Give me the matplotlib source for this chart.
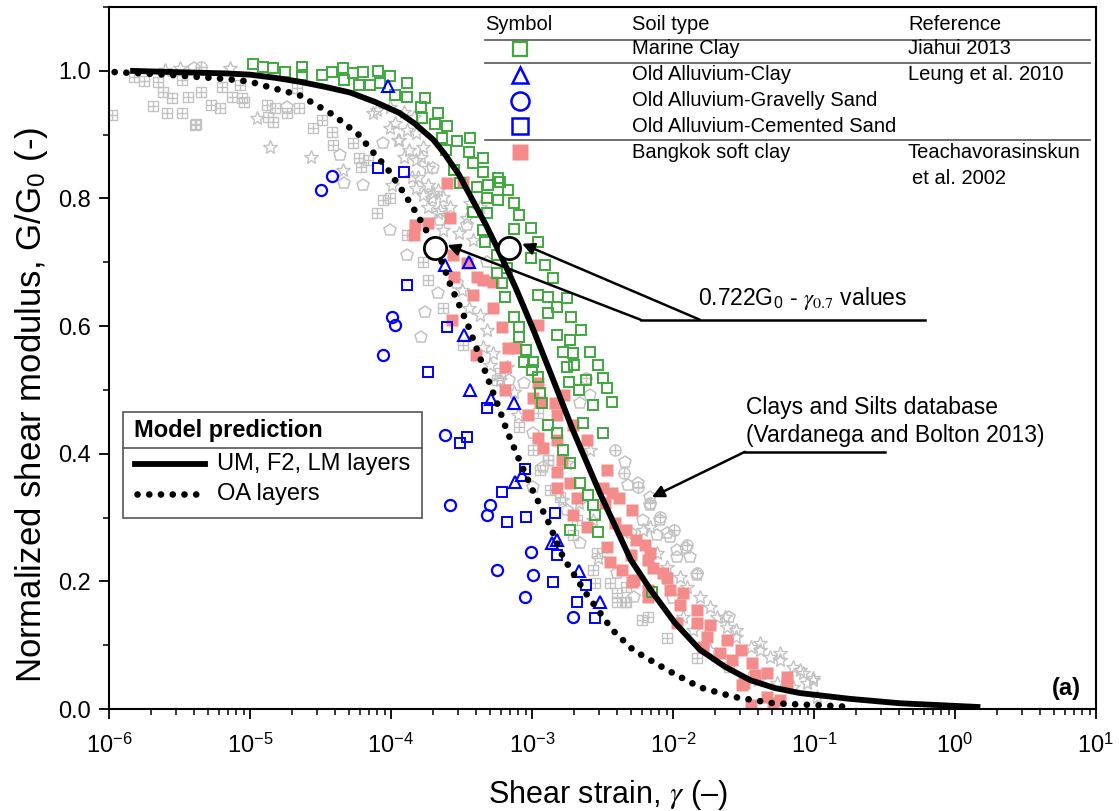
import matplotlib
matplotlib.use("Agg")
import matplotlib.pyplot as plt
import numpy as np
from matplotlib.patches import Rectangle
from matplotlib.lines import Line2D
from matplotlib.ticker import (LogLocator, MultipleLocator, FormatStrFormatter, FixedLocator,
                               FixedFormatter, NullFormatter)

plt.rcParams['font.family'] = ['Liberation Sans', 'DejaVu Sans']
plt.rcParams['mathtext.fontset'] = 'stix'

# ---- data: log10(shear strain) and G/G0 ----
# model predictions
um_logx = [-5.85, -5.53, -5.18, -5.0, -4.82, -4.65, -4.47, -4.29, -4.11, -3.94, -3.83, -3.70,
           -3.62, -3.58, -3.52, -3.44, -3.33, -3.23, -3.11, -2.99, -2.85, -2.71, -2.52, -2.30,
           -2.16, -1.99, -1.81, -1.63, -1.45, -1.28, -1.10, -0.75, -0.39, 0.18]
um_g = [1.0, 0.998, 0.996, 0.994, 0.989, 0.983, 0.975, 0.966, 0.951, 0.934, 0.917, 0.892,
        0.870, 0.857, 0.838, 0.805, 0.760, 0.715, 0.657, 0.594, 0.516, 0.437, 0.339, 0.234,
        0.187, 0.136, 0.093, 0.066, 0.045, 0.033, 0.025, 0.016, 0.009, 0.003]
oa_logx = [-5.96, -5.59, -5.16, -5.0, -4.84, -4.65, -4.41, -4.23, -4.13, -4.03, -3.91, -3.82,
           -3.74, -3.63, -3.58, -3.51, -3.45, -3.39, -3.31, -3.23, -3.18, -3.09, -2.99, -2.89,
           -2.78, -2.62, -2.43, -2.28, -2.04, -1.81, -1.57, -1.29, -0.98, -0.72]
oa_g = [0.998, 0.994, 0.987, 0.983, 0.973, 0.962, 0.931, 0.900, 0.873, 0.848, 0.809, 0.777,
        0.746, 0.696, 0.665, 0.630, 0.599, 0.563, 0.516, 0.469, 0.437, 0.390, 0.340, 0.296,
        0.238, 0.182, 0.124, 0.092, 0.061, 0.034, 0.019, 0.009, 0.006, 0.003]
g07_logx = [-3.69, -3.16]
g07_g = [0.722, 0.722]

# x tick decades and their labels
decades = [-6, -5, -4, -3, -2, -1, 0, 1]
decade_labels = [r'10$^{\mathdefault{%d}}$' % d for d in decades]

# Marine Clay (Jiahui 2013)
marine_logx = [-4.98, -4.91, -4.84, -4.75, -4.63, -4.63, -4.49, -4.42, -4.34, -4.33, -4.27, -4.20,
               -4.23, -4.15, -4.09, -4.01, -4.08, -3.89, -3.97, -3.89, -3.76, -3.79, -3.78, -3.67,
               -3.69, -3.60, -3.64, -3.53, -3.44, -3.61, -3.45, -3.35, -3.42, -3.35, -3.55, -3.24,
               -3.51, -3.39, -3.31, -3.23, -3.17, -3.32, -3.24, -3.13, -3.42, -3.32, -3.09, -3.35,
               -3.13, -3.01, -3.33, -2.96, -3.25, -3.01, -2.91, -3.25, -3.18, -2.85, -3.21, -2.96,
               -2.89, -2.75, -3.19, -2.82, -2.89, -2.72, -3.13, -3.09, -2.82, -2.73, -2.65, -2.59,
               -3.09, -3.04, -2.78, -2.71, -3.06, -2.99, -2.75, -2.70, -2.53, -3.00, -2.96, -2.74,
               -2.62, -2.50, -2.67, -2.47, -2.94, -2.93, -2.57, -2.43, -2.89, -2.82, -2.64, -2.50,
               -2.78, -2.73, -2.66, -2.60, -2.57, -2.55, -2.53, -2.73, -2.15]
marine_g = [1.01, 1.006, 1.005, 0.998, 1.006, 0.994, 0.994, 0.998, 1.005, 0.986, 0.997, 0.998,
            0.978, 0.978, 1.0, 0.992, 0.981, 0.981, 0.962, 0.959, 0.958, 0.944, 0.926, 0.934,
            0.917, 0.914, 0.895, 0.890, 0.895, 0.876, 0.873, 0.864, 0.856, 0.842, 0.845, 0.832,
            0.824, 0.818, 0.821, 0.826, 0.813, 0.801, 0.798, 0.793, 0.779, 0.777, 0.774, 0.751,
            0.752, 0.754, 0.732, 0.732, 0.712, 0.707, 0.696, 0.683, 0.691, 0.676, 0.668, 0.649,
            0.646, 0.644, 0.646, 0.630, 0.621, 0.614, 0.614, 0.599, 0.586, 0.578, 0.594, 0.560,
            0.583, 0.563, 0.560, 0.558, 0.544, 0.544, 0.536, 0.539, 0.539, 0.531, 0.520, 0.513,
            0.516, 0.519, 0.500, 0.503, 0.495, 0.480, 0.476, 0.481, 0.445, 0.433, 0.448, 0.433,
            0.406, 0.386, 0.354, 0.335, 0.320, 0.304, 0.277, 0.281, 0.183]

# Bangkok soft clay (Teachavorasinskun et al. 2002)
bangkok_logx = [-3.60, -3.49, -3.83, -3.74, -3.84, -3.58, -3.56, -3.46, -3.55, -3.39, -3.35, -3.28,
                -3.42, -3.28, -3.57, -3.21, -2.96, -3.17, -3.40, -3.11, -3.19, -3.19, -3.03, -2.96,
                -2.94, -2.82, -2.77, -2.84, -2.96, -2.92, -2.82, -2.61, -2.79, -2.82, -2.47, -2.82,
                -2.73, -2.50, -2.68, -2.43, -2.48, -2.38, -2.29, -2.71, -2.61, -2.41, -2.33, -2.26,
                -2.47, -2.20, -2.16, -2.30, -2.71, -2.99, -2.36, -2.14, -2.07, -2.04, -2.29, -2.02,
                -1.93, -2.18, -1.95, -1.83, -1.97, -1.83, -1.74, -1.76, -1.62, -1.79, -1.67, -1.58,
                -1.52, -1.44, -1.42, -1.33, -1.19, -1.50, -1.19, -1.33, -1.29, -1.45, -2.18, -2.45,
                -2.28, -2.18, -1.51, -1.24]
bangkok_g = [0.824, 0.826, 0.759, 0.762, 0.743, 0.770, 0.712, 0.699, 0.677, 0.677, 0.672, 0.669,
             0.649, 0.629, 0.610, 0.599, 0.602, 0.566, 0.555, 0.566, 0.536, 0.500, 0.461, 0.511,
             0.481, 0.461, 0.492, 0.480, 0.425, 0.409, 0.422, 0.422, 0.390, 0.371, 0.375, 0.346,
             0.354, 0.346, 0.331, 0.339, 0.323, 0.331, 0.312, 0.304, 0.285, 0.292, 0.281, 0.265,
             0.254, 0.257, 0.245, 0.241, 0.445, 0.487, 0.218, 0.221, 0.213, 0.205, 0.199, 0.187,
             0.182, 0.176, 0.163, 0.155, 0.135, 0.135, 0.132, 0.113, 0.108, 0.097, 0.088, 0.077,
             0.092, 0.072, 0.053, 0.056, 0.050, 0.041, 0.038, 0.019, 0.009, 0.006, 0.234, 0.230,
             0.202, 0.187, 0.038, 0.014]

# Old Alluvium (Leung et al. 2010)
oa_clay_logx = [-4.02, -3.62, -3.45, -3.48, -3.44, -3.29, -3.13, -3.12, -3.07, -2.86, -2.82, -2.67, -2.52]
oa_clay_g = [0.976, 0.696, 0.701, 0.586, 0.500, 0.486, 0.480, 0.356, 0.367, 0.260, 0.265, 0.216, 0.168]
oa_gravel_logx = [-4.50, -4.42, -3.99, -3.97, -4.06, -3.62, -3.58, -3.30, -3.32, -3.01, -3.25, -2.99, -3.05, -2.71]
oa_gravel_g = [0.813, 0.835, 0.614, 0.602, 0.555, 0.429, 0.320, 0.320, 0.304, 0.246, 0.218, 0.210, 0.176, 0.144]
oa_cement_logx = [-4.09, -3.91, -3.89, -3.60, -3.74, -3.32, -3.51, -3.46, -3.05, -3.21, -3.18, -3.04,
                  -2.84, -2.82, -2.85, -2.62, -2.68, -2.55]
oa_cement_g = [0.848, 0.842, 0.665, 0.599, 0.528, 0.472, 0.417, 0.426, 0.376, 0.340, 0.293, 0.301,
               0.307, 0.241, 0.199, 0.194, 0.168, 0.143]

# Clays and Silts database (Vardanega and Bolton 2013), by symbol
db_grid_logx = [-5.82, -5.75, -5.65, -5.62, -5.55, -5.44, -5.69, -5.59, -5.48, -5.38, -5.98, -5.35,
                -5.28, -5.21, -5.13, -5.06, -5.20, -5.07, -5.04, -4.88, -4.82, -4.87, -4.74, -4.84,
                -4.65, -4.67, -4.55, -4.49, -4.42, -4.41, -4.27, -4.23, -4.16, -4.21, -4.06, -4.01,
                -4.10, -3.89, -5.48, -5.39, -3.77, -3.74, -3.63, -3.49, -3.23, -3.25, -2.94, -2.87,
                -2.71, -2.57, -2.45, -2.34, -2.22, -2.55, -2.40, -2.89, -2.40, -2.33, -2.04, -1.83,
                -1.60, -1.43, -1.19, -2.96, -3.09, -2.99, -2.89, -2.80, -2.68, -2.54, -2.33, -2.18]
db_grid_g = [0.991, 0.984, 0.983, 0.967, 0.958, 0.959, 0.945, 0.934, 0.934, 0.917, 0.931, 0.967,
             0.947, 0.942, 0.959, 0.958, 0.975, 0.978, 0.951, 0.947, 0.942, 0.928, 0.934, 0.920,
             0.942, 0.973, 0.911, 0.923, 0.904, 0.884, 0.887, 0.864, 0.861, 0.850, 0.798, 0.801,
             0.777, 0.743, 0.986, 0.915, 0.701, 0.672, 0.629, 0.571, 0.527, 0.516, 0.375, 0.343,
             0.273, 0.218, 0.197, 0.168, 0.139, 0.197, 0.182, 0.390, 0.168, 0.168, 0.111, 0.080,
             0.066, 0.050, 0.045, 0.464, 0.442, 0.406, 0.390, 0.332, 0.296, 0.245, 0.191, 0.144]
db_cross_logx = [-2.41, -2.35, -2.25, -2.16, -2.09, -1.99, -1.90, -1.83, -5.35, -2.62]
db_cross_g = [0.406, 0.370, 0.348, 0.323, 0.301, 0.281, 0.257, 0.213, 1.006, 0.519]
db_pent_logx = [-2.34, -2.25, -2.16, -2.21, -2.09, -2.04, -1.91, -1.97, -1.88, -1.83, -1.60, -2.00,
                -2.59, -2.66, -2.32, -2.30, -2.11, -2.02, -1.97, -2.92, -3.06, -3.16, -4.01, -3.89,
                -3.67, -3.53, -3.65, -3.46, -3.32, -4.74, -4.36, -4.06, -4.20, -3.70, -5.40, -4.33,
                -3.76, -3.79, -2.16, -2.99, -2.99, -2.75, -2.66, -2.40, -2.28]
db_pent_g = [0.387, 0.354, 0.320, 0.296, 0.296, 0.276, 0.252, 0.238, 0.238, 0.210, 0.144, 0.174,
             0.492, 0.480, 0.351, 0.276, 0.273, 0.270, 0.249, 0.379, 0.511, 0.516, 0.751, 0.712,
             0.652, 0.668, 0.766, 0.759, 0.701, 0.944, 0.868, 0.887, 0.821, 0.848, 1.005, 0.824,
             0.622, 0.583, 0.332, 0.433, 0.348, 0.312, 0.260, 0.213, 0.176]
db_star_logx = [-4.95, -4.86, -4.57, -4.34, -4.13, -4.01, -3.94, -3.87, -3.82, -3.70, -3.99, -3.79,
                -3.85, -3.65, -5.60, -5.50, -5.14, -4.10, -4.01, -3.91, -3.84, -3.97, -3.89, -3.82,
                -3.95, -3.77, -3.91, -3.82, -3.74, -3.81, -3.74, -3.67, -3.71, -3.63, -3.58, -3.44,
                -3.37, -3.77, -3.74, -3.67, -3.63, -3.52, -3.46, -3.42, -3.50, -3.45, -3.37, -3.32,
                -3.35, -3.28, -3.30, -3.18, -3.23, -3.13, -3.10, -2.75, -2.79, -2.59, -2.67, -2.57,
                -2.21, -2.53, -2.16, -2.11, -2.04, -1.95, -1.90, -1.81, -1.74, -1.69, -1.62, -1.55,
                -1.45, -1.38, -1.31, -1.24, -1.15, -1.08, -1.01, -1.05, -1.15, -1.26, -1.40, -1.74,
                -1.86, -1.93, -0.98, -1.01, -1.10, -1.24, -1.38, -1.55, -1.63]
db_star_g = [0.926, 0.881, 0.865, 0.845, 0.934, 0.911, 0.892, 0.876, 0.817, 0.809, 0.821, 0.865,
             0.834, 0.782, 1.002, 1.005, 1.005, 0.939, 0.944, 0.936, 0.928, 0.918, 0.908, 0.903,
             0.892, 0.881, 0.865, 0.861, 0.848, 0.834, 0.821, 0.813, 0.801, 0.803, 0.787, 0.793,
             0.787, 0.806, 0.787, 0.777, 0.751, 0.746, 0.770, 0.735, 0.657, 0.629, 0.618, 0.594,
             0.567, 0.558, 0.539, 0.536, 0.516, 0.497, 0.461, 0.386, 0.328, 0.406, 0.323, 0.296,
             0.281, 0.237, 0.285, 0.245, 0.223, 0.207, 0.191, 0.176, 0.160, 0.144, 0.129, 0.113,
             0.097, 0.092, 0.082, 0.077, 0.066, 0.056, 0.045, 0.041, 0.034, 0.041, 0.045, 0.092,
             0.124, 0.144, 0.019, 0.049, 0.061, 0.088, 0.103, 0.124, 0.144]

# ---- figure ----
fig = plt.figure(figsize=(11.19, 8.11), dpi=100)
ax = fig.add_axes([109 / 1119, 1 - 709 / 811, 987 / 1119, 702 / 811])

grey = '#c2c2c2'
green = '#3fa83f'
blue = '#0000ff'
pink = '#f58c8c'


def pts(lx, g, **kw):
    ax.plot(10 ** np.array(lx), g, ls='none', **kw)


pts(db_grid_logx, db_grid_g, marker='s', ms=7, mfc='none', mec=grey, mew=1.0)
pts(db_grid_logx, db_grid_g, marker='+', ms=7, mec=grey, mew=1.0)
pts(db_cross_logx, db_cross_g, marker='o', ms=8, mfc='none', mec=grey, mew=1.0)
pts(db_cross_logx, db_cross_g, marker='+', ms=8, mec=grey, mew=1.0)
pts(db_pent_logx, db_pent_g, marker='p', ms=9, mfc='none', mec=grey, mew=1.1)
pts(db_star_logx, db_star_g, marker='*', ms=10, mfc='none', mec=grey, mew=1.0)

pts(bangkok_logx, bangkok_g, marker='s', ms=8.5, mfc=pink, mec='none')
pts(marine_logx, marine_g, marker='s', ms=7, mfc='none', mec=green, mew=1.4)
pts(oa_clay_logx, oa_clay_g, marker='^', ms=9, mfc='none', mec=blue, mew=1.5)
pts(oa_gravel_logx, oa_gravel_g, marker='o', ms=8, mfc='none', mec=blue, mew=1.6)
pts(oa_cement_logx, oa_cement_g, marker='s', ms=7, mfc='none', mec=blue, mew=1.4)

dots = (0, (0.01, 1.75))
ax.plot(10 ** np.array(um_logx), um_g, color='k', lw=4.2, solid_capstyle='butt',
        solid_joinstyle='round', zorder=5)
ax.plot(10 ** np.array(oa_logx), oa_g, color='k', lw=4.8, ls=dots, dash_capstyle='round', zorder=5)
pts(g07_logx, g07_g, marker='o', ms=16, mfc='white', mec='k', mew=2.0, zorder=6)

# annotations
arrow = dict(arrowstyle='-|>', color='k', lw=1.8, mutation_scale=18, shrinkA=0, shrinkB=0)
ax.annotate('', xy=(10 ** -3.60, 0.727), xytext=(10 ** -2.23, 0.610), arrowprops=arrow, zorder=7)
ax.annotate('', xy=(10 ** -3.07, 0.729), xytext=(10 ** -1.81, 0.610), arrowprops=arrow, zorder=7)
ax.plot([10 ** -2.23, 10 ** -0.21], [0.610, 0.610], color='k', lw=1.8)
ax.text(10 ** -1.82, 0.622, r'0.722G$_\mathdefault{0}$ - $\gamma_{0.7}$ values', fontsize=16.5,
        ha='left', va='bottom')

ax.annotate('', xy=(10 ** -2.15, 0.332), xytext=(10 ** -1.49, 0.403), arrowprops=arrow, zorder=7)
ax.plot([10 ** -1.49, 10 ** -0.50], [0.403, 0.403], color='k', lw=1.8)
ax.text(10 ** -1.48, 0.472, 'Clays and Silts database', fontsize=16.5, ha='left', va='center')
ax.text(10 ** -1.48, 0.429, '(Vardanega and Bolton 2013)', fontsize=16.5, ha='left', va='center')

ax.text(0.985, 0.029, '(a)', transform=ax.transAxes, fontsize=17, fontweight='bold',
        ha='right', va='center')

# axes styling
ax.set_xscale('log')
ax.set_xlim(1e-6, 10)
ax.set_ylim(0, 1.1)
ax.xaxis.set_major_locator(FixedLocator([10.0 ** d for d in decades]))
ax.xaxis.set_major_formatter(FixedFormatter(decade_labels))
ax.xaxis.set_minor_locator(LogLocator(base=10, subs=np.arange(2, 10), numticks=20))
ax.xaxis.set_minor_formatter(NullFormatter())
ax.yaxis.set_major_locator(MultipleLocator(0.2))
ax.yaxis.set_minor_locator(MultipleLocator(0.1))
ax.yaxis.set_major_formatter(FormatStrFormatter('%.1f'))
ax.tick_params(which='major', direction='out', length=7, width=1.3, labelsize=17, pad=6)
ax.tick_params(which='minor', direction='out', length=4, width=1.1)
ax.tick_params(axis='x', which='major', pad=10)
for s in ax.spines.values():
    s.set_linewidth(1.5)

ax.set_xlabel(r'Shear strain, $\gamma$ (–)', fontsize=22)
ax.xaxis.set_label_coords(0.505, (709 - 795) / 702)
ax.xaxis.label.set_va('center')
ax.set_ylabel(r'Normalized shear modulus, G/G$_\mathdefault{0}$ (-)', fontsize=25)
ax.yaxis.set_label_coords((32 - 109) / 987, (709 - 405) / 702)
ax.yaxis.label.set_va('center')


def ap(x, y):
    # pixel position in the 1119x811 canvas -> axes fraction
    return (x - 109) / 987, (709 - y) / 702


tr = ax.transAxes
# soil type table
for y in (40, 63, 140):
    x0, yy = ap(485, y)
    x1, _ = ap(1090, y)
    ax.add_line(Line2D([x0, x1], [yy, yy], transform=tr, color='#555555', lw=1.2))
for txt, x in (('Symbol', 485), ('Soil type', 632), ('Reference', 908)):
    ax.text(*ap(x, 25), txt, transform=tr, fontsize=14.5, va='center')
table_rows = [
    ('Marine Clay', 'Jiahui 2013', 49, dict(marker='s', ms=10, mfc='none', mec=green, mew=1.6)),
    ('Old Alluvium-Clay', 'Leung et al. 2010', 75, dict(marker='^', ms=12, mfc='none', mec=blue, mew=1.8)),
    ('Old Alluvium-Gravelly Sand', '', 101, dict(marker='o', ms=13, mfc='none', mec=blue, mew=1.8)),
    ('Old Alluvium-Cemented Sand', '', 126, dict(marker='s', ms=11, mfc='none', mec=blue, mew=1.8)),
    ('Bangkok soft clay', 'Teachavorasinskun', 152, dict(marker='s', ms=12, mfc=pink, mec='none')),
]
for soil, ref, y, mk in table_rows:
    mx, my = ap(520, y)
    ax.plot([mx], [my], transform=tr, clip_on=False, ls='none', **mk)
    ax.text(*ap(632, y), soil, transform=tr, fontsize=14.5, va='center')
    if ref:
        ax.text(*ap(908, y), ref, transform=tr, fontsize=14.5, va='center')
ax.text(*ap(912, 178), 'et al. 2002', transform=tr, fontsize=14.5, va='center')

# model prediction legend box
bx0, by0 = ap(123, 518)
bx1, by1 = ap(422, 412)
ax.add_patch(Rectangle((bx0, by0), bx1 - bx0, by1 - by0, transform=tr, fill=True, fc='white',
                       ec='#555555', lw=1.2, zorder=8))
sx0, sy = ap(123, 448)
sx1, _ = ap(422, 448)
ax.add_line(Line2D([sx0, sx1], [sy, sy], transform=tr, color='#555555', lw=1.2, zorder=9))
ax.text(*ap(134, 431), 'Model prediction', transform=tr, fontsize=17, fontweight='bold',
        va='center', zorder=9)
lx0, ly = ap(135, 464)
lx1, _ = ap(205, 464)
ax.add_line(Line2D([lx0, lx1], [ly, ly], transform=tr, color='k', lw=4.2, zorder=9))
ax.text(*ap(217, 464), 'UM, F2, LM layers', transform=tr, fontsize=17, va='center', zorder=9)
lx0, ly = ap(137, 494)
lx1, _ = ap(205, 494)
ax.add_line(Line2D([lx0, lx1], [ly, ly], transform=tr, color='k', lw=4.8, ls=dots,
                   dash_capstyle='round', zorder=9))
ax.text(*ap(217, 494), 'OA layers', transform=tr, fontsize=17, va='center', zorder=9)

fig.savefig('out.png', dpi=100)
